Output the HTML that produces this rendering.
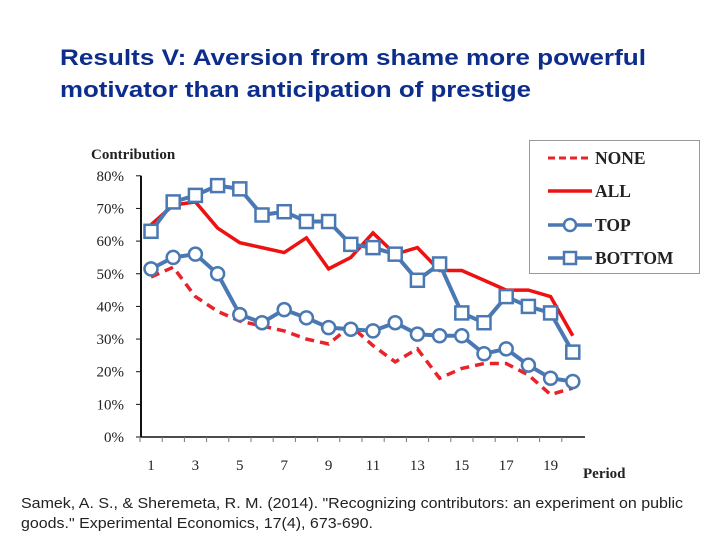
<!DOCTYPE html>
<html><head><meta charset="utf-8"><style>
html,body{margin:0;padding:0;background:#fff;}
svg{display:block;}
</style></head><body>
<svg id="chart" width="720" height="540" viewBox="0 0 720 540" xmlns="http://www.w3.org/2000/svg">
<text x="60" y="65" font-family="Liberation Sans, sans-serif" font-weight="bold" font-size="22" fill="#0c2d8c" textLength="586" lengthAdjust="spacingAndGlyphs">Results V: Aversion from shame more powerful</text>
<text x="60" y="97" font-family="Liberation Sans, sans-serif" font-weight="bold" font-size="22" fill="#0c2d8c" textLength="471" lengthAdjust="spacingAndGlyphs">motivator than anticipation of prestige</text>
<text x="21" y="508" font-family="Liberation Sans, sans-serif" font-size="15" fill="#222" textLength="662" lengthAdjust="spacingAndGlyphs">Samek, A. S., &amp; Sheremeta, R. M. (2014). "Recognizing contributors: an experiment on public</text>
<text x="21" y="528" font-family="Liberation Sans, sans-serif" font-size="15" fill="#222" textLength="352" lengthAdjust="spacingAndGlyphs">goods." Experimental Economics, 17(4), 673-690.</text>
<text x="91" y="159" font-family="Liberation Serif, serif" font-weight="bold" font-size="15" fill="#222">Contribution</text>
<text x="583" y="478" font-family="Liberation Serif, serif" font-weight="bold" font-size="15" fill="#222">Period</text>
<g id="axes"></g>
<g id="series"></g>
<g>
<rect x="529.5" y="140.5" width="170" height="133" fill="#fff" stroke="#999" stroke-width="1"/>
<line x1="548" y1="158" x2="592" y2="158" stroke="#e8232a" stroke-width="3" stroke-dasharray="7,4"/>
<text x="595" y="164" font-family="Liberation Serif, serif" font-weight="bold" font-size="17.5" fill="#222">NONE</text>
<line x1="548" y1="191" x2="592" y2="191" stroke="#e11" stroke-width="3.5"/>
<text x="595" y="197" font-family="Liberation Serif, serif" font-weight="bold" font-size="17.5" fill="#222">ALL</text>
<line x1="548" y1="225" x2="592" y2="225" stroke="#4a78b2" stroke-width="3.5"/>
<circle cx="570" cy="225" r="6" fill="#fff" stroke="#4a78b2" stroke-width="2.5"/>
<text x="595" y="231" font-family="Liberation Serif, serif" font-weight="bold" font-size="17.5" fill="#222">TOP</text>
<line x1="548" y1="258" x2="592" y2="258" stroke="#4a78b2" stroke-width="3.5"/>
<rect x="564" y="252" width="12" height="12" fill="#fff" stroke="#4a78b2" stroke-width="2.5"/>
<text x="595" y="264" font-family="Liberation Serif, serif" font-weight="bold" font-size="17.5" fill="#222">BOTTOM</text>
</g>
</svg>
<script>
const periods=[1,2,3,4,5,6,7,8,9,10,11,12,13,14,15,16,17,18,19,20];
const noneVals=[49,52,43,38.5,35.5,34,32.5,30,28.5,34,28,23,27,18,21,22.5,22.5,19,13,15];
const allVals=[65,71,72,64,59.5,58,56.5,61,51.5,55,62.5,56,58,51,51,48,45,45,43,31];
const topVals=[51.5,55,56,50,37.5,35,39,36.5,33.5,33,32.5,35,31.5,31,31,25.5,27,22,18,17];
const bottomVals=[63,72,74,77,76,68,69,66,66,59,58,56,48,53,38,35,43,40,38,26];
const yTicks=[0,10,20,30,40,50,60,70,80];
const xTickLabels=[1,3,5,7,9,11,13,15,17,19];
const NS="http://www.w3.org/2000/svg";
function X(p){return 151+(p-1)*22.2;}
function Y(v){return 437-v*3.265;}
function mk(tag,attrs,parent){const e=document.createElementNS(NS,tag);for(const k in attrs)e.setAttribute(k,attrs[k]);parent.appendChild(e);return e;}
const axes=document.getElementById('axes');
const ser=document.getElementById('series');
let e=mk('line',{x1:141,y1:Y(80),x2:141,y2:437,stroke:'#111','stroke-width':2},axes);


e=mk('line',{x1:141,y1:437,x2:585,y2:437,stroke:'#111','stroke-width':1.5},axes);


yTicks.forEach(v=>{
 const t=mk('text',{x:124,y:Y(v)+5,'text-anchor':'end','font-family':'Liberation Serif, serif','font-size':15,fill:'#222'},axes);
 t.textContent=v+'%';
 
 
 mk('line',{x1:136,y1:Y(v),x2:141,y2:Y(v),stroke:'#111'},axes);
});
periods.forEach(p=>{mk('line',{x1:X(p)-11,y1:437,x2:X(p)-11,y2:442,stroke:'#777'},axes);});
xTickLabels.forEach(p=>{
 const t=mk('text',{x:X(p),y:470,'text-anchor':'middle','font-family':'Liberation Serif, serif','font-size':15,fill:'#222'},axes);
 t.textContent=p;
 
 
});
function pts(vals){return vals.map((v,i)=>X(periods[i])+','+Y(v)).join(' ');}
e=mk('polyline',{points:pts(noneVals),fill:'none',stroke:'#e8232a','stroke-width':3.5,'stroke-dasharray':'9,6'},ser);


e=mk('polyline',{points:pts(allVals),fill:'none',stroke:'#e11','stroke-width':3.5},ser);


e=mk('polyline',{points:pts(topVals),fill:'none',stroke:'#4a78b2','stroke-width':4},ser);


e=mk('polyline',{points:pts(bottomVals),fill:'none',stroke:'#4a78b2','stroke-width':4},ser);


topVals.forEach((v,i)=>{
 const c=mk('circle',{cx:X(periods[i]),cy:Y(v),r:6.5,fill:'#fff',stroke:'#4a78b2','stroke-width':2.5},ser);
 
 
});
bottomVals.forEach((v,i)=>{
 const r=mk('rect',{x:X(periods[i])-6.5,y:Y(v)-6.5,width:13,height:13,fill:'#fff',stroke:'#4a78b2','stroke-width':2.5},ser);
 
 
});
</script>
</body></html>
